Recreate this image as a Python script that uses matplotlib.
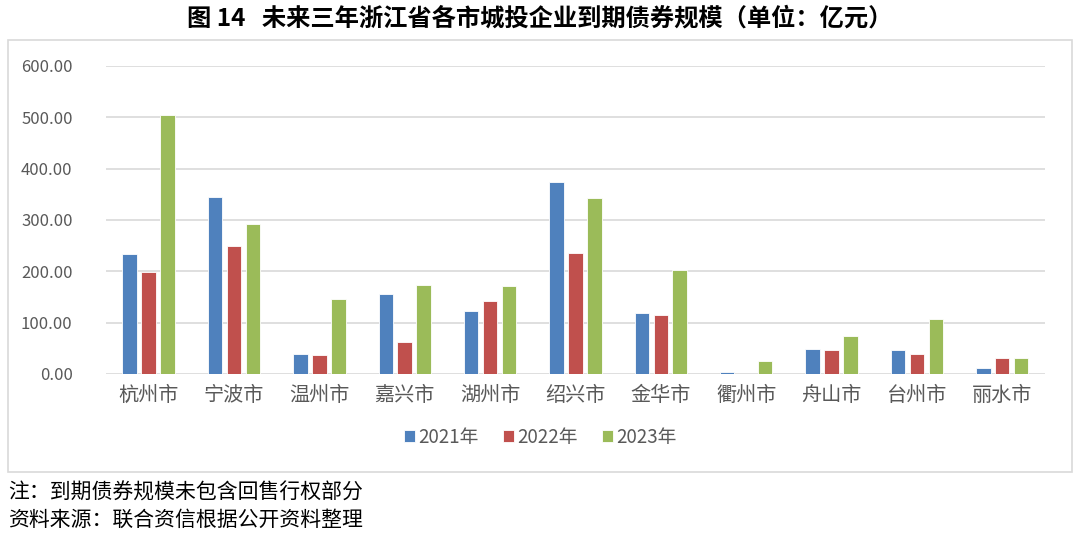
import numpy as np
import matplotlib
matplotlib.use('Agg')
import matplotlib.pyplot as plt
from matplotlib.patches import Rectangle

plt.rcParams['font.family'] = ['Noto Sans CJK SC', 'DejaVu Sans']

# data (亿元)
cities = ['杭州市', '宁波市', '温州市', '嘉兴市', '湖州市', '绍兴市', '金华市', '衢州市', '舟山市', '台州市', '丽水市']
v2021 = [233, 344, 38, 156, 123, 374, 118, 3, 49, 47, 12]
v2022 = [199, 249, 36, 62, 143, 235, 115, 0, 46, 38, 32]
v2023 = [505, 293, 147, 173, 171, 343, 203, 26, 74, 108, 32]
series_names = ['2021年', '2022年', '2023年']
yticks = [0, 100, 200, 300, 400, 500, 600]

colors = ['#4F81BD', '#C0504D', '#9BBB59']

fig = plt.figure(figsize=(10.8, 5.42), dpi=100)
ax = fig.add_axes([0.0981, 0.3100, 0.8694, 0.5683])

x = np.arange(len(cities))
step = 0.222
width = 0.17
for i, (vals, name) in enumerate(zip([v2021, v2022, v2023], series_names)):
    ax.bar(x + (i - 1) * step, vals, width, color=colors[i], label=name,
           edgecolor='white', linewidth=0.6, zorder=3)

ax.set_xlim(-0.5, len(cities) - 0.5)
ax.set_ylim(0, 600)
ax.set_yticks(yticks)
ax.set_yticklabels([f'{v:.2f}' for v in yticks], fontsize=12, color='#595959')
ax.set_xticks(x)
ax.set_xticklabels(cities, fontsize=14.5, color='#595959')
ax.tick_params(axis='y', length=0, pad=24)
ax.tick_params(axis='x', length=0, pad=8)
ax.grid(axis='y', color='#D9D9D9', linewidth=1.2, zorder=0)
for s in ax.spines.values():
    s.set_visible(False)

leg = ax.legend(loc='center', bbox_to_anchor=(540 / 1080, 1 - 437 / 542),
                bbox_transform=fig.transFigure, ncol=3, frameon=False,
                fontsize=13.5, handlelength=0.6, handleheight=0.6,
                handletextpad=0.15, columnspacing=1.3)
for t in leg.get_texts():
    t.set_color('#595959')

# outer chart frame
fig.patches.append(Rectangle((8 / 1080, 1 - 472 / 542), 1064 / 1080, 432 / 542,
                             transform=fig.transFigure, fill=False,
                             edgecolor='#D9D9D9', linewidth=1.2))

fig.text(0.5, 1 - 18 / 542, '图 14   未来三年浙江省各市城投企业到期债券规模（单位：亿元）',
         ha='center', va='center', fontsize=17.5, fontweight='bold', color='black')
fig.text(8 / 1080, 1 - 493 / 542, '注：到期债券规模未包含回售行权部分',
         ha='left', va='center', fontsize=15, color='black')
fig.text(8 / 1080, 1 - 520 / 542, '资料来源：联合资信根据公开资料整理',
         ha='left', va='center', fontsize=15, color='black')

fig.savefig('out.png', dpi=100)
